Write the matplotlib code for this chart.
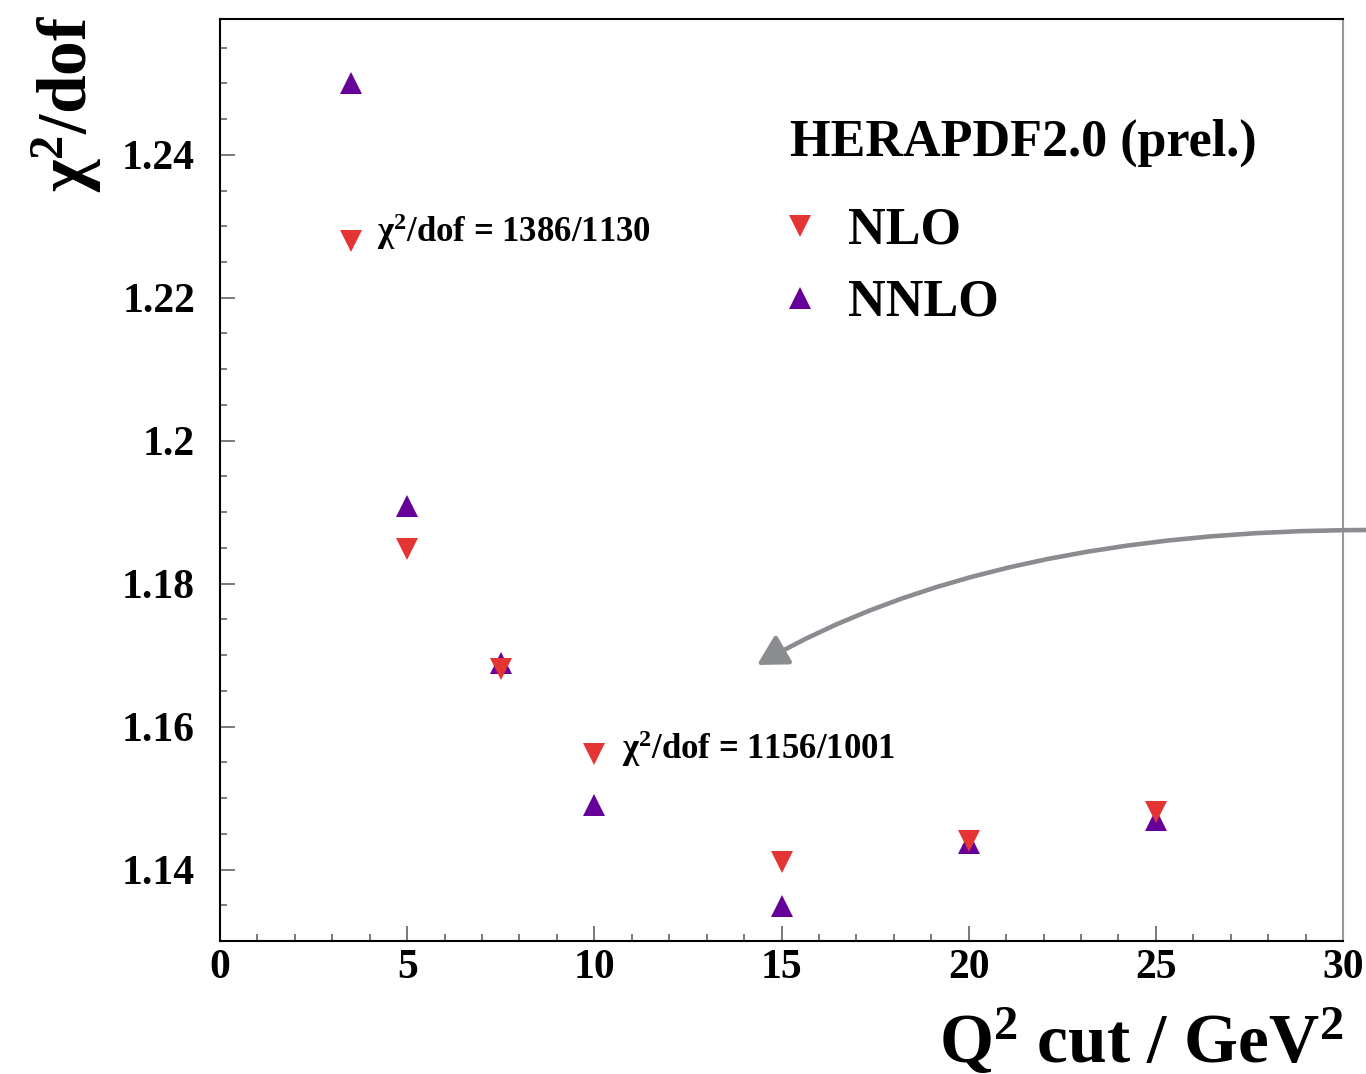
import matplotlib
matplotlib.use("Agg")
import matplotlib.pyplot as plt
from matplotlib.lines import Line2D
from matplotlib.patches import FancyArrowPatch
from matplotlib.path import Path
from matplotlib.ticker import MultipleLocator, FixedLocator

plt.rcParams['font.family'] = ['Liberation Serif', 'DejaVu Serif']
plt.rcParams['font.weight'] = 'bold'
plt.rcParams['mathtext.default'] = 'regular'

# ---- data ----
q2_cut = [3.5, 5, 7.5, 10, 15, 20, 25]
chi2_nlo = [1.2280, 1.1849, 1.1680, 1.1561, 1.1410, 1.1440, 1.1481]
chi2_nnlo = [1.2500, 1.1909, 1.1689, 1.1490, 1.1349, 1.1437, 1.1469]
series_names = ["NLO", "NNLO"]
legend_title = "HERAPDF2.0 (prel.)"
annot_texts = ["χ$^{2}$/dof = 1386/1130", "χ$^{2}$/dof = 1156/1001"]
xticks = [0, 5, 10, 15, 20, 25, 30]
yticks = [1.14, 1.16, 1.18, 1.20, 1.22, 1.24]
ytick_labels = ["1.14", "1.16", "1.18", "1.2", "1.22", "1.24"]

RED = '#E53434'
PURPLE = '#660099'
W, H = 1366, 1074

fig = plt.figure(figsize=(W / 100, H / 100), dpi=100)
ax = fig.add_axes([220 / W, 1 - 941 / H, (1343 - 220) / W, (941 - 19) / H])

ms = 16.5
ax.plot(q2_cut, chi2_nnlo, linestyle='none', marker='^', ms=ms, color=PURPLE,
        markeredgewidth=0, zorder=3)
ax.plot(q2_cut, chi2_nlo, linestyle='none', marker='v', ms=ms, color=RED,
        markeredgewidth=0, zorder=4)

ax.set_xlim(0, 30)
ax.set_ylim(1.13, 1.259)
ax.xaxis.set_major_locator(FixedLocator(xticks))
ax.xaxis.set_minor_locator(MultipleLocator(1))
ax.yaxis.set_major_locator(FixedLocator(yticks))
ax.yaxis.set_minor_locator(MultipleLocator(0.005))
ax.set_xticklabels([str(t) for t in xticks])
ax.set_yticklabels(ytick_labels)

ax.tick_params(which='both', direction='in', top=False, right=False,
               color='#555555', width=1.1)
ax.tick_params(which='major', length=10.8, labelsize=30)
ax.tick_params(axis='y', which='major', pad=18)
ax.tick_params(axis='x', which='major', pad=6)
ax.tick_params(which='minor', length=5)
for lab in ax.get_xticklabels() + ax.get_yticklabels():
    lab.set_fontweight('bold')

for s in ['left', 'bottom', 'top']:
    ax.spines[s].set_linewidth(1.5)
    ax.spines[s].set_color('black')
ax.spines['right'].set_linewidth(1.5)
ax.spines['right'].set_color('#999999')

# annotations
ax.text(4.2, 1.2278, annot_texts[0], fontsize=25, fontweight='bold',
        ha='left', va='baseline')
ax.text(10.74, 1.1555, annot_texts[1], fontsize=25, fontweight='bold',
        ha='left', va='baseline')

# legend (manual)
fig.text(790 / W, 1 - 156 / H, legend_title, fontsize=37.5, fontweight='bold',
         ha='left', va='baseline')
leg_y = [226, 298]
leg_markers = ['v', '^']
leg_colors = [RED, PURPLE]
for name, yy, mk, c in zip(series_names, leg_y, leg_markers, leg_colors):
    fig.add_artist(Line2D([800 / W], [1 - yy / H], marker=mk, ms=ms * 0.95,
                          color=c, markeredgewidth=0, linestyle='none'))
    fig.text(848 / W, 1 - (yy + 18) / H, name, fontsize=37.5, fontweight='bold',
             ha='left', va='baseline')

# axis labels
fig.text(1343 / W, 1 - 1063 / H, "Q$^{2}$ cut / GeV$^{2}$", fontsize=50,
         fontweight='bold', ha='right', va='baseline')
fig.text(87 / W, 1 - 15 / H, "χ$^{2}$/dof", fontsize=50, fontweight='bold',
         rotation=90, rotation_mode='anchor', ha='right', va='baseline')

# curved arrow
def fp(x, y):
    return (x / W, 1 - y / H)

arrow_path = Path([fp(1370, 530), fp(990, 530), fp(757, 665)],
                  [Path.MOVETO, Path.CURVE3, Path.CURVE3])
arrow = FancyArrowPatch(path=arrow_path, transform=fig.transFigure,
                        arrowstyle='-|>,head_length=0.9,head_width=0.5',
                        mutation_scale=20, color='#8a8c90', linewidth=3.3,
                        zorder=2)
fig.add_artist(arrow)

fig.savefig('out.png', dpi=100)
